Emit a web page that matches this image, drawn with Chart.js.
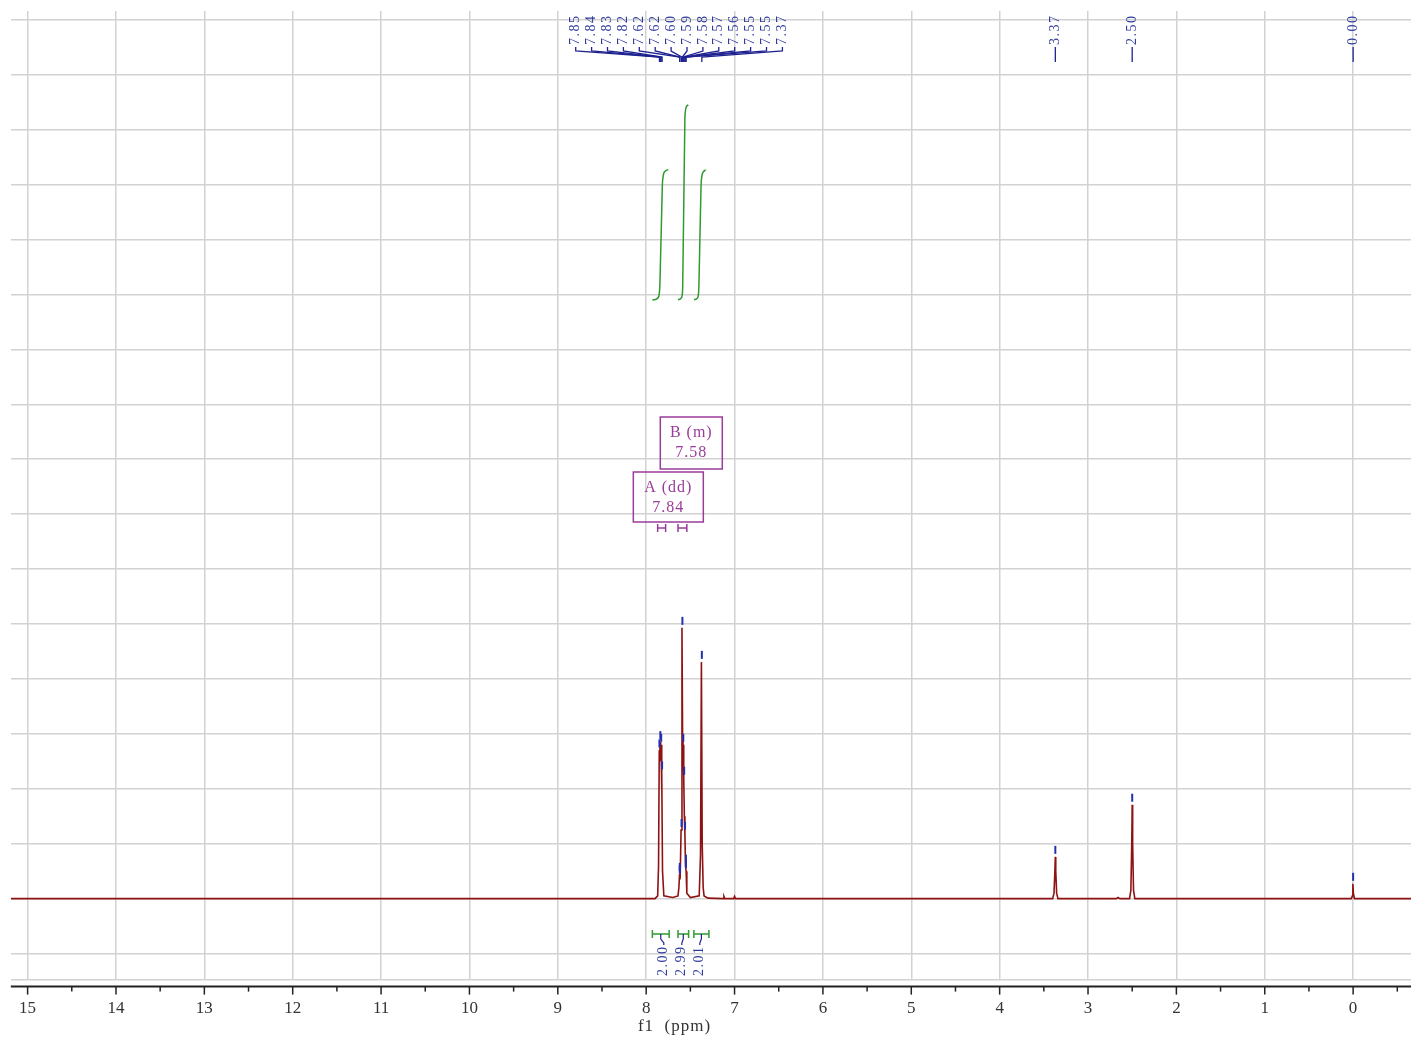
<!DOCTYPE html>
<html><head><meta charset="utf-8">
<script src="https://cdn.jsdelivr.net/npm/chart.js@4.4.0/dist/chart.umd.min.js"></script>
<style>html,body{margin:0;padding:0;background:#fff;}canvas{display:block;}</style>
</head><body>
<canvas id="c" width="1411" height="1038"></canvas>
<script>
// ---------- data ----------
const xTickValues = [15,14,13,12,11,10,9,8,7,6,5,4,3,2,1,0];
const xTickLabels = ['15','14','13','12','11','10','9','8','7','6','5','4','3','2','1','0'];

// spectrum (ppm, intensity)
const specPpm = [15.19, 7.90, 7.87, 7.86, 7.852, 7.848, 7.842, 7.836, 7.832, 7.826, 7.822, 7.815, 7.80, 7.70, 7.64, 7.63, 7.622, 7.618, 7.615, 7.605, 7.595, 7.588, 7.582, 7.575, 7.568, 7.562, 7.555, 7.548, 7.54, 7.50, 7.40, 7.385, 7.375, 7.366, 7.355, 7.345, 7.30, 7.13, 7.12, 7.11, 7.01, 7.00, 6.99, 3.40, 3.385, 3.375, 3.37, 3.365, 3.355, 3.34, 2.68, 2.66, 2.64, 2.53, 2.515, 2.505, 2.50, 2.495, 2.485, 2.47, 0.02, 0.008, 0.003, -0.003, -0.015, -0.655];
const specInt = [0, 0, 0.05, 0.6, 2.7, 2.5, 2.85, 2.6, 2.8, 2.0, 2.3, 0.5, 0.05, 0.02, 0.05, 0.2, 0.45, 0.35, 0.4, 1.25, 4.93, 3.0, 2.8, 2.2, 1.5, 1.2, 0.6, 0.5, 0.1, 0.02, 0.05, 0.8, 4.31, 1.0, 0.2, 0.05, 0.01, 0, 0.04, 0, 0, 0.04, 0, 0, 0.1, 0.5, 0.76, 0.5, 0.1, 0, 0, 0.02, 0, 0, 0.15, 1.0, 1.71, 1.0, 0.15, 0, 0, 0.05, 0.27, 0.1, 0, 0];

// picked peaks
const peakPpm = [7.85, 7.84, 7.83, 7.82, 7.62, 7.62, 7.60, 7.59, 7.58, 7.57, 7.56, 7.55, 7.55, 7.37, 3.37, 2.50, 0.00];
const peakHeight = [2.7, 2.85, 2.8, 2.3, 0.45, 0.4, 1.25, 4.93, 2.8, 2.2, 1.2, 0.6, 0.5, 4.31, 0.76, 1.71, 0.27];
const peakLabels = ['7.85','7.84','7.83','7.82','7.62','7.62','7.60','7.59','7.58','7.57','7.56','7.55','7.55','7.37','3.37','2.50','0.00'];
const peakGroups = [[0,1,2,3,4,5,6,7,8,9,10,11,12,13],[14],[15],[16]];

// integrals
const integralFrom = [7.93, 7.64, 7.46];
const integralTo = [7.74, 7.52, 7.29];
const integralValues = ['2.00','2.99','2.01'];
const intCurve1Ppm = [7.930, 7.896, 7.873, 7.856, 7.845, 7.817, 7.808, 7.795, 7.772, 7.750];
const intCurve1Val = [-0.03, -0.024, -0.008, 0.03, 0.20, 1.78, 1.92, 1.98, 2.01, 2.02];
const intCurve2Ppm = [7.639, 7.613, 7.596, 7.587, 7.562, 7.553, 7.540, 7.523];
const intCurve2Val = [-0.03, -0.016, 0.016, 0.157, 2.835, 2.976, 3.024, 3.04];
const intCurve3Ppm = [7.458, 7.430, 7.413, 7.404, 7.379, 7.370, 7.356, 7.326];
const intCurve3Val = [-0.03, -0.016, 0.016, 0.157, 1.78, 1.92, 1.98, 2.02];

// multiplets
const multName = ['A (dd)', 'B (m)'];
const multShift = ['7.84', '7.58'];
const multPpm = [7.84, 7.58];
const multFrom = [7.87, 7.64];
const multTo = [7.78, 7.54];

// ---------- helpers ----------
const toXY = (xs, ys) => xs.map((x, i) => ({x: x, y: ys[i]}));
const SERIF = '"Liberation Serif", "DejaVu Serif", serif';
const BLUE_TXT = '#2f3c9c';
const BLUE_LN = '#1e2290';
const GREEN = '#2f9a2f';
const PURPLE = '#9a3c9a';

const overlay = {
  id: 'overlay',
  afterDatasetsDraw(chart) {
    const ctx = chart.ctx;
    const xs = chart.scales.x, ys = chart.scales.y;
    const ca = chart.chartArea;
    ctx.save();

    // ----- x axis line and tick marks -----
    const axY = ca.bottom + 7;
    ctx.strokeStyle = '#222';
    ctx.lineWidth = 2;
    ctx.beginPath(); ctx.moveTo(ca.left, axY); ctx.lineTo(ca.right, axY); ctx.stroke();
    ctx.lineWidth = 1.5;
    for (let v = -0.5; v <= 15.5; v += 0.5) {
      const px = xs.getPixelForValue(v);
      if (px < ca.left || px > ca.right) continue;
      const len = (Math.abs(v - Math.round(v)) < 1e-6) ? 8 : 5;
      ctx.beginPath(); ctx.moveTo(px, axY); ctx.lineTo(px, axY + len); ctx.stroke();
    }
    // axis title
    ctx.fillStyle = '#333';
    ctx.font = '17px ' + SERIF;
    ctx.textAlign = 'center'; ctx.textBaseline = 'middle';
    try { ctx.letterSpacing = '1px'; } catch(e) {}
    ctx.fillText('f1  (ppm)', ca.left + (ca.right - ca.left) * 0.474, 1027);

    // ----- peak markers on spectrum -----
    ctx.strokeStyle = '#2430b0';
    ctx.lineWidth = 2;
    peakPpm.forEach((p, i) => {
      const px = xs.getPixelForValue(p);
      const py = ys.getPixelForValue(peakHeight[i]);
      ctx.beginPath(); ctx.moveTo(px, py - 3); ctx.lineTo(px, py - 11); ctx.stroke();
    });

    // ----- peak labels at top -----
    ctx.font = '14px ' + SERIF;
    try { ctx.letterSpacing = '1.5px'; } catch(e) {}
    const spacing = 15.9;
    peakGroups.forEach(g => {
      const pxs = g.map(i => xs.getPixelForValue(peakPpm[i]));
      const mean = pxs.reduce((a, b) => a + b, 0) / pxs.length;
      const start = mean + 1 - spacing * (g.length - 1) / 2;
      g.forEach((idx, k) => {
        const lx = g.length > 1 ? start + k * spacing : pxs[k];
        const px = pxs[k];
        ctx.strokeStyle = BLUE_LN; ctx.lineWidth = 1.3;
        ctx.beginPath();
        ctx.moveTo(lx, 47); ctx.lineTo(lx, 51); ctx.lineTo(px, 57); ctx.lineTo(px, 62);
        ctx.stroke();
        ctx.save();
        ctx.translate(lx, 45);
        ctx.rotate(-Math.PI / 2);
        ctx.fillStyle = BLUE_TXT;
        ctx.textAlign = 'left'; ctx.textBaseline = 'middle';
        ctx.fillText(peakLabels[idx], 0, 0);
        ctx.restore();
      });
    });

    // ----- integral brackets and values (bottom) -----
    try { ctx.letterSpacing = '1.5px'; } catch(e) {}
    const cxs = integralFrom.map((f, i) => (xs.getPixelForValue(f) + xs.getPixelForValue(integralTo[i])) / 2);
    const meanC = cxs.reduce((a, b) => a + b, 0) / cxs.length;
    integralFrom.forEach((f, i) => {
      const x1 = xs.getPixelForValue(f), x2 = xs.getPixelForValue(integralTo[i]);
      const by = 934;
      ctx.strokeStyle = GREEN; ctx.lineWidth = 1.5;
      ctx.beginPath();
      ctx.moveTo(x1, by); ctx.lineTo(x2, by);
      ctx.moveTo(x1, by - 4); ctx.lineTo(x1, by + 4);
      ctx.moveTo(x2, by - 4); ctx.lineTo(x2, by + 4);
      ctx.stroke();
      const lx = meanC + (i - 1) * 18;
      ctx.strokeStyle = BLUE_LN; ctx.lineWidth = 1.2;
      ctx.beginPath();
      ctx.moveTo(cxs[i], by); ctx.lineTo(cxs[i], by + 5); ctx.lineTo(lx, by + 9); ctx.lineTo(lx, by + 11);
      ctx.stroke();
      ctx.save();
      ctx.translate(lx, 976);
      ctx.rotate(-Math.PI / 2);
      ctx.fillStyle = BLUE_TXT;
      ctx.textAlign = 'left'; ctx.textBaseline = 'middle';
      ctx.fillText(integralValues[i], 0, 0);
      ctx.restore();
    });

    // ----- multiplet boxes -----
    try { ctx.letterSpacing = '1px'; } catch(e) {}
    ctx.font = '16px ' + SERIF;
    const boxW = [70, 62], boxTop = [472, 417], boxH = [50, 52];
    multPpm.forEach((p, i) => {
      const cx = xs.getPixelForValue(p) + 8;
      ctx.strokeStyle = PURPLE; ctx.lineWidth = 1.5;
      ctx.strokeRect(cx - boxW[i] / 2, boxTop[i], boxW[i], boxH[i]);
      ctx.fillStyle = PURPLE;
      ctx.textAlign = 'center'; ctx.textBaseline = 'middle';
      ctx.fillText(multName[i], cx, boxTop[i] + 16);
      ctx.fillText(multShift[i], cx, boxTop[i] + 36);
      // range marker
      const x1 = xs.getPixelForValue(multFrom[i]), x2 = xs.getPixelForValue(multTo[i]);
      const my = 528;
      ctx.beginPath();
      ctx.moveTo(x1, my); ctx.lineTo(x2, my);
      ctx.moveTo(x1, my - 4); ctx.lineTo(x1, my + 4);
      ctx.moveTo(x2, my - 4); ctx.lineTo(x2, my + 4);
      ctx.stroke();
    });
    ctx.restore();
  }
};

const yTicks = [-1.474, -1, 0, 1, 2, 3, 4, 5, 6, 7, 8, 9, 10, 11, 12, 13, 14, 15, 16];

new Chart(document.getElementById('c'), {
  type: 'line',
  data: {
    datasets: [
      { data: toXY(specPpm, specInt), borderColor: '#8e1212', borderWidth: 1.6, pointRadius: 0, tension: 0, yAxisID: 'y' },
      { data: toXY(intCurve1Ppm, intCurve1Val), borderColor: GREEN, borderWidth: 1.5, pointRadius: 0, tension: 0.3, yAxisID: 'yInt' },
      { data: toXY(intCurve2Ppm, intCurve2Val), borderColor: GREEN, borderWidth: 1.5, pointRadius: 0, tension: 0.3, yAxisID: 'yInt' },
      { data: toXY(intCurve3Ppm, intCurve3Val), borderColor: GREEN, borderWidth: 1.5, pointRadius: 0, tension: 0.3, yAxisID: 'yInt' }
    ]
  },
  options: {
    responsive: false,
    devicePixelRatio: 1,
    animation: false,
    events: [],
    layout: { padding: { left: 9, right: 0, top: 11, bottom: 0 } },
    plugins: { legend: { display: false }, tooltip: { enabled: false }, title: { display: false } },
    scales: {
      x: {
        type: 'linear', reverse: true, min: -0.655, max: 15.19,
        afterBuildTicks: s => { s.ticks = xTickValues.map(v => ({ value: v })); },
        ticks: {
          autoSkip: false, maxRotation: 0, padding: 19, color: '#333',
          font: { family: SERIF, size: 17 },
          callback: (v, i) => xTickLabels[i]
        },
        grid: { color: '#d2d2d2', lineWidth: 1.5, drawTicks: false },
        border: { display: false }
      },
      y: {
        type: 'linear', min: -1.474, max: 16.16,
        afterBuildTicks: s => { s.ticks = yTicks.map(v => ({ value: v })); },
        ticks: { display: false },
        grid: { color: '#d2d2d2', lineWidth: 1.5, drawTicks: false },
        border: { display: false }
      },
      yInt: {
        type: 'linear', display: false, min: -10.74, max: 4.52
      }
    }
  },
  plugins: [overlay]
});
</script>
</body></html>
